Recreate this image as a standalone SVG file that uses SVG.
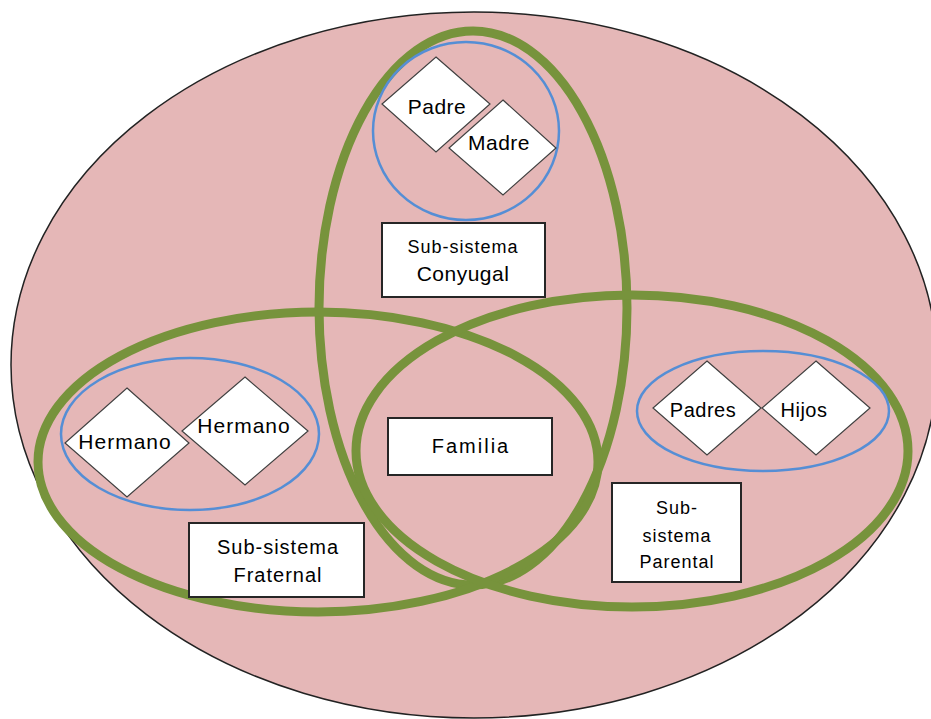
<svg xmlns="http://www.w3.org/2000/svg" width="931" height="719" viewBox="0 0 931 719">
<style>
.bg{fill:#E5B7B7;stroke:#222;stroke-width:1.5}
.g{fill:none;stroke:#77933C;stroke-width:9}
.b{fill:none;stroke:#558ED5;stroke-width:2.5}
.d{fill:#fff;stroke:#404040;stroke-width:1.2}
.r{fill:#fff;stroke:#262626;stroke-width:2}
text{font-family:"Liberation Sans",Arial,sans-serif;fill:#000;text-anchor:middle}
.t{font-size:21px;letter-spacing:0.5px}
.s{font-size:18px;letter-spacing:1px}
</style>
<rect width="931" height="719" fill="#fff"/>
<ellipse class="bg" cx="474" cy="365" rx="463" ry="353"/>
<g id="circles">
<ellipse class="g" cx="473" cy="308" rx="154" ry="277"/>
<ellipse class="g" cx="318" cy="462" rx="280" ry="150"/>
<ellipse class="g" cx="632" cy="451" rx="276" ry="156"/>
<ellipse class="b" cx="466" cy="131" rx="93" ry="89"/>
<ellipse class="b" cx="190" cy="434" rx="129" ry="76"/>
<ellipse class="b" cx="763" cy="411" rx="126" ry="60"/>
</g>
<g id="padre"><polygon class="d" points="436,57 490,104 436,152 382,104"/><text class="t" x="437" y="114">Padre</text></g>
<g id="madre"><polygon class="d" points="503,100 556,148 503,195 449,148"/><text class="t" x="499" y="150">Madre</text></g>
<g id="hermano1"><polygon class="d" points="127,388 189,443 127,497 65,443"/><text class="t" x="125" y="449" style="letter-spacing:1px">Hermano</text></g>
<g id="hermano2"><polygon class="d" points="245,377 308,431 245,485 182,431"/><text class="t" x="244" y="433" style="letter-spacing:1px">Hermano</text></g>
<g id="padres"><polygon class="d" points="707,361 761,408 707,455 653,408"/><text class="t" x="703" y="417" style="font-size:20px">Padres</text></g>
<g id="hijos"><polygon class="d" points="816,361 870,408 816,455 762,408"/><text class="t" x="804" y="417" style="font-size:20px">Hijos</text></g>
<g id="conyugal"><rect class="r" x="382" y="223" width="163" height="74"/><text class="s" x="463" y="253">Sub-sistema</text><text class="t" x="463" y="281">Conyugal</text></g>
<g id="familia"><rect class="r" x="388" y="418" width="164" height="57"/><text class="t" x="471" y="453" style="font-size:20px;letter-spacing:2px">Familia</text></g>
<g id="fraternal"><rect class="r" x="189" y="523" width="175" height="74"/><text class="s" x="278" y="554" style="font-size:20px">Sub-sistema</text><text class="s" x="278" y="582" style="font-size:20px">Fraternal</text></g>
<g id="parental"><rect class="r" x="612" y="483" width="129" height="99"/><text class="s" x="677" y="514">Sub-</text><text class="s" x="677" y="542">sistema</text><text class="s" x="677" y="568">Parental</text></g>
</svg>
